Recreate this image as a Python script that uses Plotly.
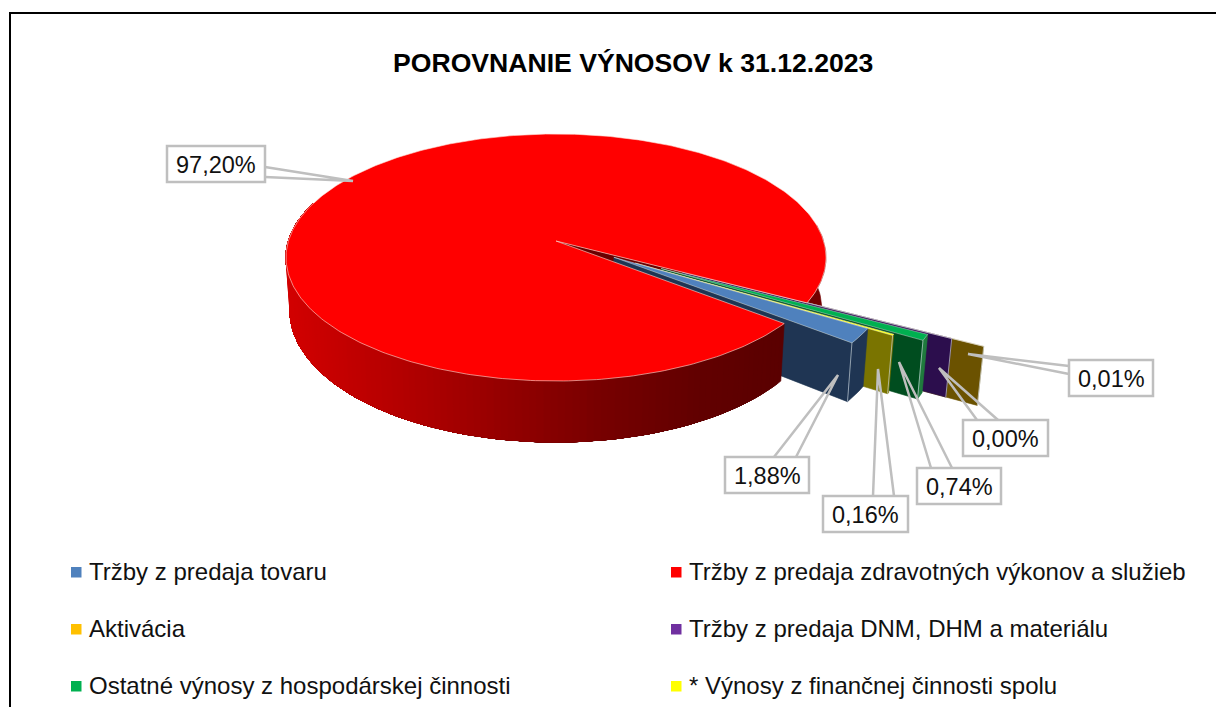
import numpy as np
import plotly.graph_objects as go

# ---- chart data ----
title_text = "POROVNANIE VÝNOSOV k 31.12.2023"
categories = ["Tržby z predaja tovaru", "Tržby z predaja zdravotných výkonov a služieb",
              "Aktivácia", "Tržby z predaja DNM, DHM a materiálu",
              "Ostatné výnosy z hospodárskej činnosti", "* Výnosy z finančnej činnosti spolu"]
values = [1.88, 97.20, 0.01, 0.00, 0.74, 0.16]
value_labels = ["1,88%", "97,20%", "0,01%", "0,00%", "0,74%", "0,16%"]
colors_top = ["#4f81bd", "#ff0000", "#ffc000", "#7030a0", "#00b050", "#ffff00"]
colors_side = ["#1f3553", "#7a0000", "#6b5200", "#2c0e4d", "#004d1f", "#7a7400"]
explode = [0.25, 0.0, 0.63, 0.52, 0.44, 0.34]
explode_dir = [31.8, 0.0, 28.5, 28.5, 30.0, 31.6]

# ---- projection of the tilted, perspective disc ----
CX, CY, A, B, K = 556.0, 241.0, 267.6, 121.3, 0.1336
first_angle = 31.8            # degrees, clockwise on screen from the +X axis
Z_SHRINK = 0.985


def proj(X, Y, low=False):
    X, Y = np.asarray(X, float), np.asarray(Y, float)
    s = 1 / (1 - K * Y)
    px = CX + A * X * s
    py = CY + B * Y * s
    if low:
        px = CX + (px - CX) * Z_SHRINK
        py = py + 52 + 9 * Y
    return px, py


total = sum(values)
spans = [v / total * 360 for v in values]
starts = first_angle + np.concatenate([[0], np.cumsum(spans)[:-1]])

fig = go.Figure()


def poly(x, y, fill, line=None, lw=0.8):
    fig.add_trace(go.Scatter(
        x=list(x) + [x[0]], y=list(y) + [y[0]], mode="lines", fill="toself", fillcolor=fill,
        line=dict(color=line or fill, width=lw if line else 0.6),
        hoverinfo="skip", showlegend=False))


def wedge_parts(i):
    a0 = np.radians(starts[i])
    a1 = np.radians(starts[i] + spans[i])
    d = np.radians(explode_dir[i])
    ox, oy = explode[i] * np.cos(d), explode[i] * np.sin(d)
    return a0, a1, ox, oy


def red_wall_color(px):
    level = np.interp(px, [288, 400, 500, 600, 700, 790], [0xd2, 0xb4, 0x96, 0x78, 0x62, 0x5a])
    return f"rgb({int(level)},0,0)"


def wall_quad(a, b, ox, oy, color, line=None, n=6):
    t = np.linspace(a, b, n)
    X, Y = ox + np.cos(t), oy + np.sin(t)
    x0, y0 = proj(X, Y)
    x1, y1 = proj(X, Y, True)
    poly(list(x0) + list(x1[::-1]), list(y0) + list(y1[::-1]), color, line)


RED = 1
red_a0 = np.radians(starts[RED])
red_a1 = np.radians(starts[RED] + spans[RED])

# back part of the large slice: right wall and the notch wall behind the small slices
wall_quad(red_a1 - np.radians(36), red_a1, 0, 0, "#720000", n=30)
ux, uy = np.cos(red_a1), np.sin(red_a1)
xa, ya = proj([0, ux], [0, uy])
xb, yb = proj([0, ux], [0, uy], True)
poly([xa[0], xa[1], xb[1], xb[0]], [ya[0], ya[1], yb[1], yb[0]], "#6a0000")

# exploded small slices, far to near
for i in [2, 3, 4, 5, 0]:
    a0, a1, ox, oy = wedge_parts(i)
    # radial face on the near side
    ex, ey = ox + np.cos(a1), oy + np.sin(a1)
    xa, ya = proj([ox, ex], [oy, ey])
    xb, yb = proj([ox, ex], [oy, ey], True)
    poly([xa[0], xa[1], xb[1], xb[0]], [ya[0], ya[1], yb[1], yb[0]], colors_side[i])
    # rim wall
    if spans[i] > 0.5:
        rim = "#1f7a3d" if i == 4 else colors_side[i]
        wall_quad(a0, a1, ox, oy, rim)
    # top
    tt = np.linspace(a0, a1, 8)
    xt, yt = proj(np.r_[ox, ox + np.cos(tt)], np.r_[oy, oy + np.sin(tt)])
    poly(xt, yt, colors_top[i], "rgba(255,255,255,0.55)", 0.7)
    # bright edge between faces
    fig.add_trace(go.Scatter(x=[xa[1], xb[1]], y=[ya[1], yb[1]], mode="lines",
                             line=dict(color="rgba(220,230,240,0.6)", width=1),
                             hoverinfo="skip", showlegend=False))

# front part of the large slice: each band runs to the end of the wall, so no seams show
t = np.linspace(red_a0, red_a0 + np.radians(160), 120)
for a, b in zip(t[:-1], t[1:]):
    mx, _ = proj(np.cos((a + b) / 2), np.sin((a + b) / 2))
    wall_quad(a, t[-1], 0, 0, red_wall_color(float(mx)), n=max(3, int((t[-1] - a) * 40)))
tt = np.linspace(red_a0, red_a1, 400)
xt, yt = proj(np.r_[0, np.cos(tt)], np.r_[0, np.sin(tt)])
poly(xt, yt, colors_top[RED], "rgba(255,225,215,0.75)", 0.8)

# ---- callouts (box x0, x1, y0, y1; leader roots; tip) ----
callouts = [
    (1, 167, 265, 146, 182, (265, 167), (265, 177), (353, 181)),
    (0, 725, 809, 457, 493, (774, 457), (796, 457), (838, 375)),
    (5, 823, 908, 496, 532, (873, 496), (894, 496), (878, 369)),
    (4, 917, 1001, 468, 504, (931, 468), (952, 468), (899, 362)),
    (3, 963, 1048, 420, 456, (977, 420), (998, 420), (939, 368)),
    (2, 1069, 1153, 360, 396, (1069, 366), (1069, 374), (968, 354)),
]
shapes = []
annotations = []
GREY = "#bfbfbf"
for idx, x0, x1, y0, y1, r0, r1, tip in callouts:
    shapes.append(dict(type="path", xref="x", yref="y",
                       path=f"M{r0[0]},{r0[1]} L{tip[0]},{tip[1]} L{r1[0]},{r1[1]}",
                       line=dict(color=GREY, width=2.5), fillcolor="rgba(255,255,255,0)"))
    shapes.append(dict(type="rect", xref="x", yref="y", x0=x0, x1=x1, y0=y0, y1=y1,
                       line=dict(color=GREY, width=2.5), fillcolor="white"))
    annotations.append(dict(x=(x0 + x1) / 2, y=(y0 + y1) / 2 + 0.5, text=value_labels[idx], showarrow=False,
                            xref="x", yref="y", xanchor="center", yanchor="middle",
                            font=dict(family="Liberation Sans", size=23.5, color="#111111")))

# ---- legend ----
legend_pos = [(71, 572), (671, 572), (71, 629), (671, 629), (71, 686), (671, 686)]
for (lx, ly), name, col in zip(legend_pos, categories, colors_top):
    shapes.append(dict(type="rect", xref="x", yref="y", x0=lx, x1=lx + 10.5, y0=ly - 5, y1=ly + 5.5,
                       fillcolor=col, line=dict(width=0)))
    annotations.append(dict(x=lx + 16, y=ly - 0.5, text=name, showarrow=False, xref="x", yref="y",
                            xanchor="left", yanchor="middle",
                            font=dict(family="Liberation Sans", size=24, color="#111111")))

# ---- title and frame ----
annotations.append(dict(x=633, y=63, text=f"<b>{title_text}</b>", showarrow=False, xref="x", yref="y",
                        xanchor="center", yanchor="middle",
                        font=dict(family="Liberation Sans", size=26.6, color="black")))
shapes.append(dict(type="line", xref="x", yref="y", x0=10, x1=10, y0=13, y1=707, line=dict(color="black", width=2)))
shapes.append(dict(type="line", xref="x", yref="y", x0=9, x1=1216, y0=13, y1=13, line=dict(color="black", width=2)))

fig.update_layout(
    width=1216, height=707, margin=dict(l=0, r=0, t=0, b=0), paper_bgcolor="white", plot_bgcolor="white",
    xaxis=dict(range=[0, 1216], visible=False, fixedrange=True),
    yaxis=dict(range=[707, 0], visible=False, fixedrange=True),
    shapes=shapes, annotations=annotations, showlegend=False,
)
fig.write_html("out.html", config=dict(displayModeBar=False),
               post_script="document.body.style.margin='0';document.body.style.overflow='hidden';")
